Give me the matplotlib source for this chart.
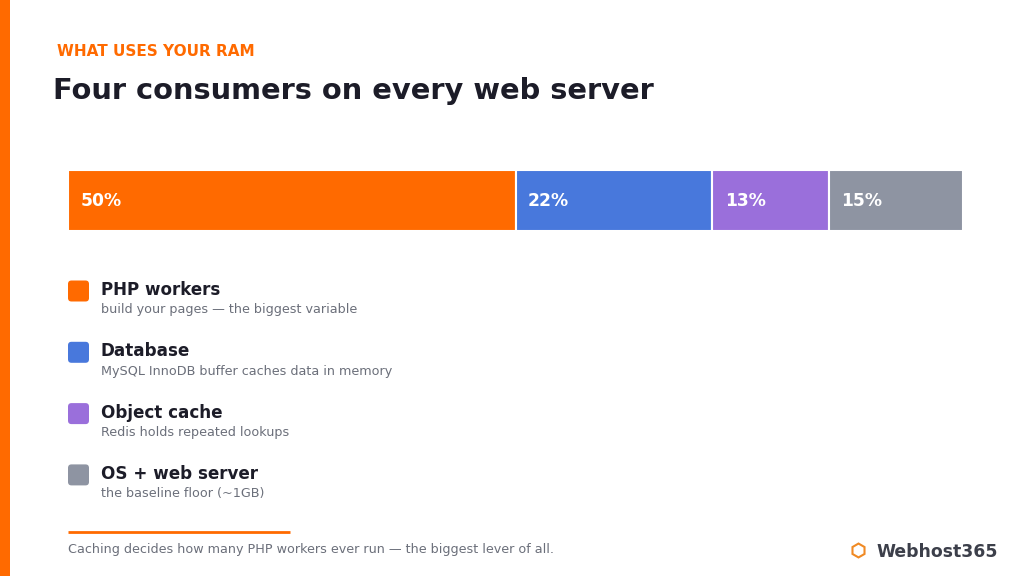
import matplotlib
matplotlib.use('Agg')
import matplotlib.pyplot as plt
from matplotlib.patches import FancyBboxPatch, Rectangle

# data
categories = ['PHP workers', 'Database', 'Object cache', 'OS + web server']
shares = [50, 22, 13, 15]
notes = ['build your pages \u2014 the biggest variable',
         'MySQL InnoDB buffer caches data in memory',
         'Redis holds repeated lookups',
         'the baseline floor (~1GB)']
colours = ['#ff6a00', '#4878dc', '#9a6fdb', '#8e94a2']

ORANGE = '#ff6a00'
DARK = '#1c1c28'
GREY = '#6b6f7a'

plt.rcParams['font.family'] = ['DejaVu Sans']

fig = plt.figure(figsize=(10.24, 5.76), dpi=100)
fig.patch.set_facecolor('white')

# overlay in pixel coords for decoration
deco = fig.add_axes([0, 0, 1, 1])
deco.set_xlim(0, 1024)
deco.set_ylim(576, 0)
deco.axis('off')

deco.add_patch(Rectangle((0, 0), 10, 576, color=ORANGE, lw=0))
deco.text(57, 52, 'WHAT USES YOUR RAM', color=ORANGE, fontsize=11,
          fontweight='bold', va='center', ha='left')
deco.text(53, 91, 'Four consumers on every web server', color=DARK,
          fontsize=20.8, fontweight='bold', va='center', ha='left')

# stacked bar
ax = fig.add_axes([68/1024, 1 - 231/576, 895/1024, 61/576])
left = 0
for val, col in zip(shares, colours):
    ax.barh(0, val, left=left, height=1, color=col, edgecolor='white', linewidth=1.5)
    ax.text(left + 1.4, 0, f'{val}%', color='white', fontsize=12.3,
            fontweight='bold', va='center', ha='left')
    left += val
ax.set_xlim(0, sum(shares))
ax.set_ylim(-0.5, 0.5)
ax.axis('off')

# legend rows
for i, (cat, note, col) in enumerate(zip(categories, notes, colours)):
    y = 291 + i * 61.3
    deco.add_patch(FancyBboxPatch((68, y - 10.5), 21, 21,
                                  boxstyle='round,pad=0,rounding_size=3.5',
                                  fc=col, ec='none'))
    deco.text(101, y - 1, cat, color=DARK, fontsize=12.1, fontweight='bold',
              va='center', ha='left')
    deco.text(101, y + 19, note, color=GREY, fontsize=9.2, va='center', ha='left')

# footer
deco.plot([68, 290], [532, 532], color=ORANGE, lw=2, solid_capstyle='butt')
deco.text(68, 550, 'Caching decides how many PHP workers ever run \u2014 the biggest lever of all.',
          color=GREY, fontsize=9.2, va='center', ha='left')
deco.plot([858], [550], marker='h', ms=10, mfc='none', mec='#f08a24', mew=1.5)
deco.text(876, 552, 'Webhost365', color='#3c3f4a', fontsize=12.4, fontweight='bold',
          va='center', ha='left')

fig.savefig('out.png', dpi=100)
